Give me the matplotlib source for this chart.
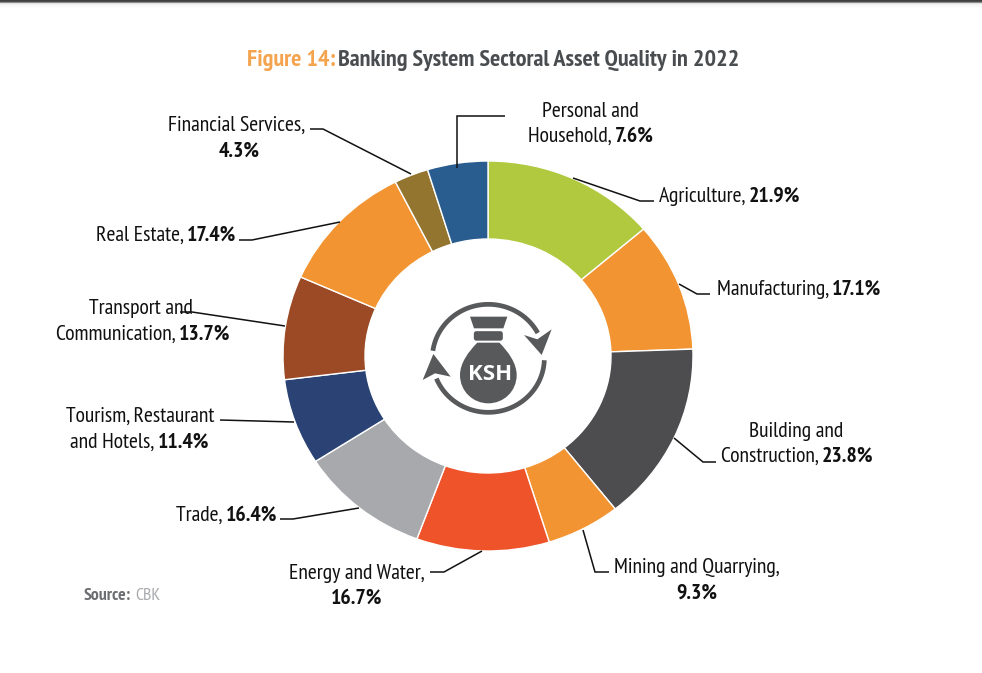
import numpy as np
import matplotlib
matplotlib.use('Agg')
import matplotlib.pyplot as plt
from matplotlib.patches import Polygon, PathPatch, FancyBboxPatch
from matplotlib.path import Path
from matplotlib import font_manager as fm

W, H = 982, 673

sectors = ['Agriculture', 'Manufacturing', 'Building and Construction', 'Mining and Quarrying',
           'Energy and Water', 'Trade', 'Tourism, Restaurant and Hotels',
           'Transport and Communication', 'Real Estate', 'Financial Services',
           'Personal and Household']
values = [21.9, 17.1, 23.8, 9.3, 16.7, 16.4, 11.4, 13.7, 17.4, 4.3, 7.6]
colors = ['#b0c93f', '#f29431', '#4d4d4f', '#f29431', '#ee532a', '#a7a9ac',
          '#2a4374', '#9b4a25', '#f29431', '#937530', '#2a5d8f']

# label text: regular part, bold part, centre x, baseline y
label_lines = [
    ('Personal and', '', 590, 117), ('Household, ', '7.6%', 591, 142),
    ('Agriculture, ', '21.9%', 729.5, 202),
    ('Manufacturing, ', '17.1%', 799, 295),
    ('Building and', '', 796, 437), ('Construction, ', '23.8%', 797, 462),
    ('Mining and Quarrying,', '', 697, 573), ('', '9.3%', 697, 599),
    ('Energy and Water,', '', 357, 579), ('', '16.7%', 357, 604),
    ('Trade, ', '16.4%', 227, 521),
    ('Tourism, Restaurant', '', 140, 422), ('and Hotels, ', '11.4%', 140, 448),
    ('Transport and', '', 141, 314), ('Communication, ', '13.7%', 143, 340),
    ('Real Estate, ', '17.4%', 166, 241),
    ('Financial Services,', '', 237, 131), ('', '4.3%', 239, 157),
]

# leader lines in picture pixels
leaders = [
    [(573, 178), (640, 201), (654, 201)],
    [(679, 284), (697, 294), (710, 294)],
    [(674, 438), (703, 462), (716, 462)],
    [(583, 530), (595, 572), (609, 572)],
    [(482, 551), (444, 572), (430, 572)],
    [(359, 508), (293, 519), (280, 519)],
    [(294, 422), (220, 420)],
    [(285, 326), (192, 312), (180, 312)],
    [(340, 222), (252, 240), (239, 240)],
    [(411, 174), (323, 129), (310, 129)],
    [(457, 168), (457, 116), (505, 116)],
]

# narrow face if the machine has one, Lato otherwise
have = {f.name for f in fm.fontManager.ttflist}
FONT = 'PT Sans Narrow' if 'PT Sans Narrow' in have else 'Lato'
LABEL_SIZE = 15.7 if FONT != 'Lato' else 13
TITLE_SIZE = 17.4 if FONT != 'Lato' else 15
ICON = '#58595b'

fig = plt.figure(figsize=(W / 100, H / 100), dpi=100, facecolor='white')

# donut, slightly wider than tall like the original
ax = fig.add_axes([283 / W, 1 - 551 / H, 410 / W, 390 / H])
ax.pie(values, colors=colors, startangle=90, counterclock=False, radius=1,
       wedgeprops={'width': 0.4, 'edgecolor': 'white', 'linewidth': 1})
ax.set_aspect('auto')
ax.set_xlim(-1, 1)
ax.set_ylim(-1, 1)

# overlay in pixel coordinates for texts, leaders and icon
ov = fig.add_axes([0, 0, 1, 1], facecolor='none')
ov.set_xlim(0, W)
ov.set_ylim(H, 0)
ov.axis('off')

# dark band on the top edge
band = np.array([[0.25], [0.3], [0.55], [0.88], [0.95], [0.97], [0.98], [0.99], [1.0]])
ov.imshow(band, cmap='gray', vmin=0, vmax=1, extent=(0, W, 9, 0), aspect='auto', zorder=0)
ov.set_xlim(0, W)
ov.set_ylim(H, 0)

renderer = fig.canvas.get_renderer()


def mixed_text(regular, bold, cx, y, size=LABEL_SIZE, c1='#111111', c2='#111111'):
    t1 = ov.text(0, y, regular, fontsize=size, color=c1, family=FONT, va='baseline', ha='left')
    t2 = ov.text(0, y, bold, fontsize=size, color=c2, family=FONT, weight='bold', va='baseline', ha='left')
    w1 = t1.get_window_extent(renderer).width if regular else 0
    w2 = t2.get_window_extent(renderer).width if bold else 0
    left = cx - (w1 + w2) / 2
    t1.set_x(left)
    t2.set_x(left + w1)


for reg, bld, cx, y in label_lines:
    mixed_text(reg, bld, cx, y)

for pts in leaders:
    xs, ys = zip(*pts)
    ov.plot(xs, ys, color='#111111', lw=1.1, solid_capstyle='butt', solid_joinstyle='miter')

# title, bold orange part first
ov.text(247, 66, 'Figure 14:', fontsize=TITLE_SIZE, color='#f4a44e', family=FONT, weight='bold', va='baseline')
ov.text(338, 66, 'Banking System Sectoral Asset Quality in 2022', fontsize=TITLE_SIZE, color='#4a4d50',
        family=FONT, weight='bold', va='baseline')

# source
ov.text(84, 600, 'Source:', fontsize=12.8, color='#6d6e71', family=FONT, weight='bold', va='baseline')
ov.text(135, 600, 'CBK', fontsize=12.8, color='#a7a9ac', family=FONT, va='baseline')


# icon, coordinates taken from a 3x crop starting at (400, 280)
def z(x, y):
    return (400 + x / 3, 280 + y / 3)


for a0, a1 in [(28, 172), (-2, -158)]:
    ang = np.radians(np.linspace(a0, a1, 60))
    cx, cy = z(265, 235)
    ov.plot(cx + 56 * np.cos(ang), cy - 54 * np.sin(ang), color=ICON, lw=3.4, solid_capstyle='butt')

ov.add_patch(Polygon([z(372, 165), z(412, 178), z(455, 148), z(425, 225)], closed=True, fc=ICON, ec='none'))
ov.add_patch(Polygon([z(100, 222), z(152, 290), z(105, 280), z(68, 300)], closed=True, fc=ICON, ec='none'))
ov.add_patch(Polygon([z(210, 110), z(322, 110), z(310, 145), z(222, 145)], closed=True, fc=ICON, ec='none'))
bx, by = z(220, 155)
ov.add_patch(FancyBboxPatch((bx + 3, by + 2), 24, 4.5, boxstyle='round,pad=2.5', fc=ICON, ec='none'))

bag = [z(232, 188), z(298, 188)]
verts = [bag[0], bag[1], z(325, 215), z(350, 250), z(350, 285), z(350, 335), z(310, 370), z(265, 370),
         z(220, 370), z(180, 335), z(180, 285), z(180, 250), z(205, 215), bag[0], bag[0]]
codes = [Path.MOVETO, Path.LINETO, Path.CURVE4, Path.CURVE4, Path.CURVE4, Path.CURVE4, Path.CURVE4, Path.CURVE4,
         Path.CURVE4, Path.CURVE4, Path.CURVE4, Path.CURVE4, Path.CURVE4, Path.CURVE4, Path.CLOSEPOLY]
ov.add_patch(PathPatch(Path(verts, codes), fc=ICON, ec='none'))
ov.text(490, 375, 'KSH', fontsize=16, color='white', family='Open Sans', weight='bold', ha='center', va='center')

fig.savefig('out.png', dpi=100, facecolor='white')
